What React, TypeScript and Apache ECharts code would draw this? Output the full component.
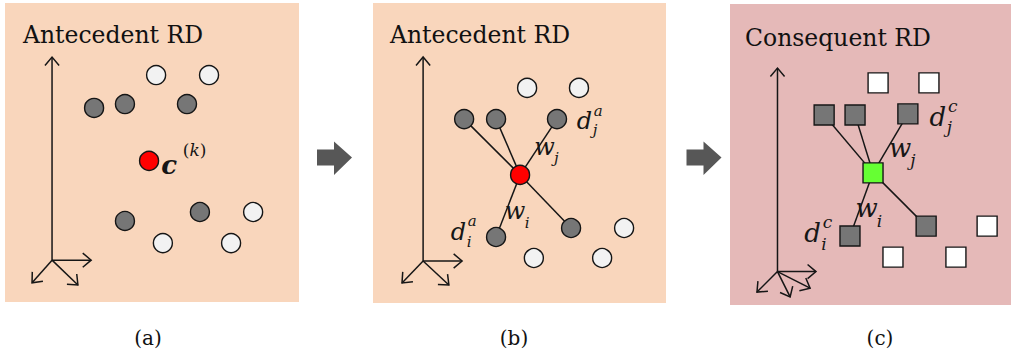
import { useEffect, useRef } from "react";
import * as echarts from "echarts";

type Pt = [number, number];
type MathLabel = { base: string; sup?: string; sub?: string; at: Pt };

// Panel (a): antecedent space with the rule centre c(k)
const aCentre: Pt = [4.9, 4.72];
const aNear: Pt[] = [[3.03, 6.49], [4.08, 6.62], [6.19, 6.62], [4.08, 2.71], [6.63, 3.01]];
const aFar: Pt[] = [[5.14, 7.59], [6.94, 7.59], [8.44, 3.01], [5.37, 1.97], [7.69, 1.97]];
const aAxisOrigin: Pt = [1.6, 1.4];
const aAxisTips: Pt[] = [[1.6, 8.19], [2.93, 1.4], [0.92, 0.64], [2.48, 0.57]];
const aLabels: MathLabel[] = [{ base: "c", sup: "(k)", at: [5.58, 4.52] }];

// Panel (b): antecedent neighbours linked to the centre with weights
const bCentre: Pt = [5.02, 4.27];
const bNear: Pt[] = [[3.11, 6.13], [4.2, 6.13], [6.28, 6.13], [4.2, 2.2], [6.76, 2.5]];
const bFar: Pt[] = [[5.26, 7.17], [7.03, 7.17], [8.57, 2.5], [5.49, 1.5], [7.82, 1.5]];
const bAxisOrigin: Pt = [1.71, 1.4];
const bAxisTips: Pt[] = [[1.71, 8.2], [3.04, 1.4], [0.99, 0.67], [2.59, 0.6]];
const bLabels: MathLabel[] = [
  { base: "d", sup: "a", sub: "j", at: [7.22, 6.07] },
  { base: "w", sub: "j", at: [5.85, 5.13] },
  { base: "w", sub: "i", at: [4.85, 3.0] },
  { base: "d", sup: "a", sub: "i", at: [2.92, 2.38] },
];

// Panel (c): consequent counterparts of the same neighbours
const cCentre: Pt = [5.09, 4.39];
const cNear: Pt[] = [[3.35, 6.31], [4.45, 6.31], [6.33, 6.35], [4.27, 2.29], [6.98, 2.62]];
const cFar: Pt[] = [[5.27, 7.38], [7.08, 7.38], [9.15, 2.62], [5.8, 1.59], [8.04, 1.59]];
const cAxisOrigin: Pt = [1.69, 1.11];
const cAxisTips: Pt[] = [[1.69, 7.87], [3.06, 1.11], [0.96, 0.43], [2.14, 0.27], [2.85, 0.56]];
const cLabels: MathLabel[] = [
  { base: "d", sup: "c", sub: "j", at: [7.4, 6.23] },
  { base: "w", sub: "j", at: [6.05, 5.15] },
  { base: "w", sub: "i", at: [4.86, 3.16] },
  { base: "d", sup: "c", sub: "i", at: [2.94, 2.39] },
];

const panelTitles = ["Antecedent RD", "Antecedent RD", "Consequent RD"];
const captions = ["(a)", "(b)", "(c)"];

const SERIF = '"DejaVu Serif", serif';
const INK = "#161616";
const DARK = "#767676";
const PEACH = "#F9D6BC";
const ROSE = "#E5B9B8";

// offsets of the script letters, in em of the base letter
const SCRIPT: Record<string, { sup: Pt; sub: Pt }> = {
  d: { sup: [0.57, -0.37], sub: [0.44, 0.43] },
  w: { sup: [0.5, -0.4], sub: [0.5, 0.42] },
  c: { sup: [0.98, -0.64], sub: [0.5, 0.42] },
};
// letters without ascenders sit visually lower than the em centre
const LOW = new Set(["a", "c", "w"]);
const DESC = new Set(["j"]);

function glyphText(x: number, y: number, text: string, size: number, italic: boolean, bold = false, rich?: any) {
  let dy = 0;
  if (LOW.has(text)) dy = -0.09 * size;
  if (DESC.has(text)) dy = -0.08 * size;
  return {
    type: "text",
    x,
    y: y + dy,
    style: {
      text,
      fontFamily: "DejaVu Serif",
      fontSize: size,
      fontStyle: italic ? "italic" : "normal",
      fontWeight: bold ? "bold" : "normal",
      fill: INK,
      align: "center",
      verticalAlign: "middle",
      rich,
    },
  };
}

function network(idx: number, centre: Pt, near: Pt[], far: Pt[], symbol: string, centreColor: string, farColor: string, size: number, linked: boolean) {
  const node = (p: Pt, color: string) => ({
    value: p,
    symbol,
    symbolSize: size,
    itemStyle: { color, borderColor: INK, borderWidth: 1.4 },
  });
  return {
    type: "graph",
    layout: "none",
    coordinateSystem: "cartesian2d",
    xAxisIndex: idx,
    yAxisIndex: idx,
    roam: false,
    silent: true,
    z: 3,
    data: [node(centre, centreColor), ...near.map((p) => node(p, DARK)), ...far.map((p) => node(p, farColor))],
    links: linked ? near.map((_, i) => ({ source: 0, target: i + 1 })) : [],
    lineStyle: { color: INK, width: 1.5, opacity: 1, curveness: 0 },
    label: { show: false },
    emphasis: { disabled: true },
  };
}

function frame(idx: number, origin: Pt, tips: Pt[]) {
  return {
    type: "custom",
    coordinateSystem: "cartesian2d",
    xAxisIndex: idx,
    yAxisIndex: idx,
    data: tips,
    silent: true,
    clip: false,
    z: 2,
    renderItem: (_params: any, api: any) => {
      const o = api.coord(origin);
      const t = api.coord([api.value(0), api.value(1)]);
      const ang = Math.atan2(t[1] - o[1], t[0] - o[0]);
      const arm = 11;
      const spread = 0.7;
      const p1 = [t[0] - arm * Math.cos(ang - spread), t[1] - arm * Math.sin(ang - spread)];
      const p2 = [t[0] - arm * Math.cos(ang + spread), t[1] - arm * Math.sin(ang + spread)];
      return {
        type: "group",
        children: [
          { type: "line", shape: { x1: o[0], y1: o[1], x2: t[0], y2: t[1] }, style: { stroke: INK, lineWidth: 1.5 } },
          { type: "polyline", shape: { points: [p1, t, p2] }, style: { stroke: INK, lineWidth: 1.5, fill: null } },
        ],
      };
    },
  };
}

function mathLabels(idx: number, labels: MathLabel[], size: number, boldBase = false) {
  return {
    type: "custom",
    coordinateSystem: "cartesian2d",
    xAxisIndex: idx,
    yAxisIndex: idx,
    data: labels.map((l) => l.at),
    silent: true,
    clip: false,
    z: 6,
    renderItem: (params: any, api: any) => {
      const l = labels[params.dataIndex];
      const [x, y] = api.coord([api.value(0), api.value(1)]);
      const off = SCRIPT[l.base] || SCRIPT.d;
      const small = Math.round(size * 0.64);
      const children: any[] = [glyphText(x, y, l.base, size, true, boldBase)];
      if (l.sup) {
        const sx = x + off.sup[0] * size;
        const sy = y + off.sup[1] * size;
        if (l.sup.length > 1) {
          const inner = l.sup.slice(1, -1);
          children.push(
            glyphText(sx, sy, l.sup[0] + "{k|" + inner + "}" + l.sup[l.sup.length - 1], small, false, false, {
              k: { fontStyle: "italic", fontSize: small, fontFamily: "DejaVu Serif", fill: INK },
            })
          );
        } else {
          children.push(glyphText(sx, sy, l.sup, small, true));
        }
      }
      if (l.sub) {
        children.push(glyphText(x + off.sub[0] * size, y + off.sub[1] * size, l.sub, small, true));
      }
      return { type: "group", children };
    },
  };
}

function connector(x0: number) {
  return {
    type: "polygon",
    shape: {
      points: [
        [x0, 149.5],
        [x0 + 17, 149.5],
        [x0 + 17, 141.5],
        [x0 + 35, 157.5],
        [x0 + 17, 175],
        [x0 + 17, 165.5],
        [x0, 165.5],
      ],
    },
    style: { fill: "#575757" },
    silent: true,
  };
}

export default function App() {
  const ref = useRef<HTMLDivElement>(null);

  useEffect(() => {
    if (!ref.current) return;
    const chart = echarts.init(ref.current, undefined, { renderer: "svg" });

    const grids = [
      { left: 5, top: 3, width: 294, height: 299, fill: PEACH },
      { left: 373, top: 3, width: 293, height: 300, fill: PEACH },
      { left: 730, top: 4, width: 281, height: 301, fill: ROSE },
    ];
    const titleX = [23, 390, 745];
    const titleY = [35, 35, 38];
    const captionX = [148, 514, 880];

    chart.setOption({
      animation: false,
      backgroundColor: "#ffffff",
      grid: grids.map((g) => ({
        left: g.left,
        top: g.top,
        width: g.width,
        height: g.height,
        show: true,
        backgroundColor: g.fill,
        borderWidth: 0,
        containLabel: false,
      })),
      xAxis: grids.map((_, i) => ({ type: "value", gridIndex: i, min: 0, max: 10, show: false })),
      yAxis: grids.map((_, i) => ({ type: "value", gridIndex: i, min: 0, max: 10, show: false })),
      series: [
        frame(0, aAxisOrigin, aAxisTips),
        frame(1, bAxisOrigin, bAxisTips),
        frame(2, cAxisOrigin, cAxisTips),
        network(0, aCentre, aNear, aFar, "circle", "#ff0000", "#f2f2f2", 19, false),
        network(1, bCentre, bNear, bFar, "circle", "#ff0000", "#f2f2f2", 19, true),
        network(2, cCentre, cNear, cFar, "rect", "#66ff33", "#ffffff", 20, true),
        mathLabels(0, aLabels, 26, true),
        mathLabels(1, bLabels, 24),
        mathLabels(2, cLabels, 26),
      ],
      graphic: [
        connector(317),
        connector(686.5),
        ...panelTitles.map((t, i) => ({
          type: "text",
          x: titleX[i],
          y: titleY[i],
          silent: true,
          style: { text: t, fontFamily: "DejaVu Serif", fontSize: 23.5, fill: "#111", align: "left", verticalAlign: "middle" },
        })),
        ...captions.map((t, i) => ({
          type: "text",
          x: captionX[i],
          y: 338,
          silent: true,
          style: { text: t, fontFamily: "DejaVu Serif", fontSize: 20, fill: "#111", align: "center", verticalAlign: "middle" },
        })),
      ],
    });

    return () => chart.dispose();
  }, []);

  return (
    <div
      ref={ref}
      style={{ position: "absolute", left: 0, top: 0, width: 1011, height: 358, fontFamily: SERIF }}
    />
  );
}
